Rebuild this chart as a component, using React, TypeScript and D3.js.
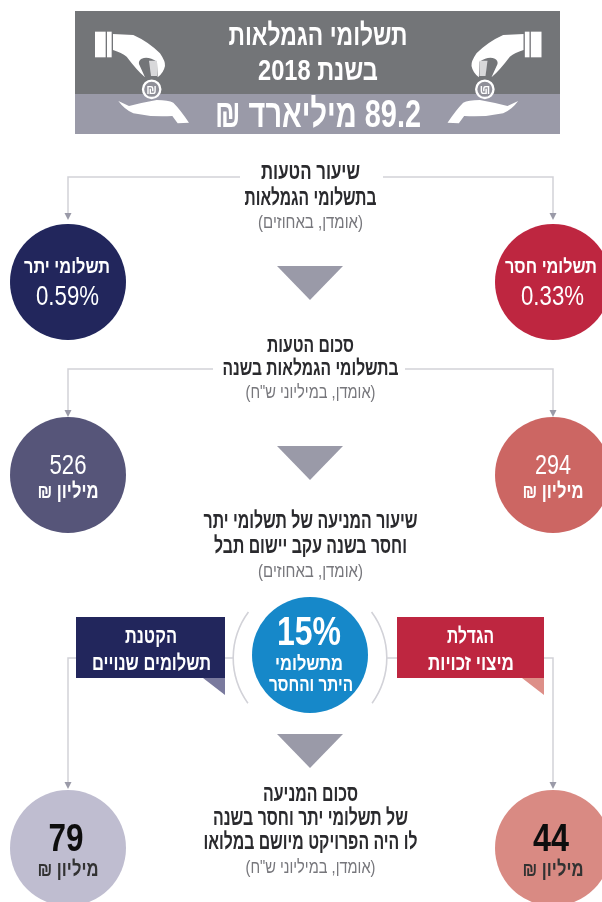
import * as d3 from "d3";

const sides = ["left", "right"];
const rows = ["rate", "amount", "prevented"];

const errorKinds = ["תשלומי יתר", "תשלומי חסר"];
const errorRates = [0.59, 0.33];
const errorAmounts = [526, 294];
const preventedAmounts = [79, 44];
const boxLines = [
    ["הקטנת", "תשלומים שנויים"],
    ["הגדלת", "מיצוי זכויות"],
];

const title = ["תשלומי הגמלאות", "בשנת 2018"];
const totalLabel = "89.2 מיליארד ₪";
const millionLabel = "מיליון ₪";
const preventionRate = 15;
const preventionLines = ["מתשלומי", "היתר והחסר"];

const headings = [
    ["שיעור הטעות", "בתשלומי הגמלאות"],
    ["סכום הטעות", "בתשלומי הגמלאות בשנה"],
    ["שיעור המניעה של תשלומי יתר", "וחסר בשנה עקב יישום תבל"],
    ["סכום המניעה", "של תשלומי יתר וחסר בשנה", "לו היה הפרויקט מיושם במלואו"],
];
const notes = ["(אומדן, באחוזים)", '(אומדן, במיליוני ש"ח)', "(אומדן, באחוזים)", '(אומדן, במיליוני ש"ח)'];

// measured widths: the original face is much narrower than anything installed
const widths: Record<string, number> = {
    "תשלומי הגמלאות": 179,
    "בשנת 2018": 120,
    "89.2 מיליארד ₪": 206,
    "שיעור הטעות": 99,
    "בתשלומי הגמלאות": 132,
    "(אומדן, באחוזים)": 105,
    "סכום הטעות": 87,
    "בתשלומי הגמלאות בשנה": 176,
    '(אומדן, במיליוני ש"ח)': 130,
    "שיעור המניעה של תשלומי יתר": 214,
    "וחסר בשנה עקב יישום תבל": 193,
    "סכום המניעה": 95,
    "של תשלומי יתר וחסר בשנה": 195,
    "לו היה הפרויקט מיושם במלואו": 214,
    "תשלומי יתר": 86,
    "תשלומי חסר": 92,
    "0.59%": 63,
    "0.33%": 63,
    "526": 37,
    "294": 36,
    "79": 35,
    "44": 36,
    "מיליון ₪": 61,
    "הקטנת": 52,
    "תשלומים שנויים": 119,
    "הגדלת": 47,
    "מיצוי זכויות": 86,
    "15%": 64,
    "מתשלומי": 68,
    "היתר והחסר": 84,
};

const x = d3.scalePoint(sides, [68, 553]);
const rowY = d3.scaleOrdinal(rows, [282, 475, 848]);
const circleR = 58;
const midX = 310;

const circleFill = d3.scaleOrdinal(sides, ["#20265c", "#be2540"]);
const amountFill = d3.scaleOrdinal(sides, ["#565579", "#cc6664"]);
const preventedFill = d3.scaleOrdinal(sides, ["#bfbdd0", "#d98a83"]);
const foldFill = d3.scaleOrdinal(sides, ["#7a7a9e", "#dd8f88"]);

const lineColor = "#d2d2d8";
const arrowColor = "#9a9aa8";
const font = "'Liberation Sans', sans-serif";

function Label({ t, cx, y, size, fill = "#fff", weight = 700 }: any) {
    return (
        <text
            x={cx}
            y={y}
            textAnchor="middle"
            direction="rtl"
            fontSize={size}
            fontWeight={weight}
            fontFamily={font}
            fill={fill}
            textLength={widths[t]}
            lengthAdjust="spacingAndGlyphs"
        >
            {t}
        </text>
    );
}

function Branch({ y, gapL, gapR, end }: any) {
    const path = d3.line();
    return (
        <g fill="none" stroke={lineColor} strokeWidth={1.5}>
            <path d={path([[gapL, y], [x("left")!, y], [x("left")!, end]])!} />
            <path d={path([[gapR, y], [x("right")!, y], [x("right")!, end]])!} />
            {sides.map((s) => (
                <path key={s} fill={arrowColor} stroke="none"
                    d={path([[x(s)! - 3.5, end], [x(s)! + 3.5, end], [x(s)!, end + 7]])! + "Z"} />
            ))}
        </g>
    );
}

function Triangle({ y }: { y: number }) {
    return <path fill={arrowColor} d={d3.line()([[midX - 33, y], [midX + 33, y], [midX, y + 34]])! + "Z"} />;
}

// hand + coin icon, drawn 3x in the coordinates of the left one
function Hands() {
    return (
        <g fill="#fff" transform="translate(85,20) scale(0.3333)">
            <rect x={30} y={35} width={32} height={77} />
            <rect x={66} y={35} width={14} height={77} />
            <path d="M84 42 L145 45 Q190 65 225 100 Q242 125 240 138 Q236 158 218 172 L216 125 Q190 108 170 116 Q160 122 162 132 L180 172 Q155 150 125 110 Q110 98 84 90 Z" />
            <path d="M192 122 H216 V168 H198 Z" fill="#d8d8da" />
            <circle cx={200} cy={208} r={26} fill="#8f8f98" stroke="#fff" strokeWidth={7} />
            <text x={200} y={222} textAnchor="middle" fontSize={36} fontWeight={700} fontFamily={font}>₪</text>
            <path d="M100 243 L132 258 Q170 248 215 240 Q250 240 265 248 Q285 268 312 308 L278 310 L262 288 Q200 292 145 280 Q118 268 100 243 Z" />
        </g>
    );
}

export default function App() {
    const arcLeft = d3.arc()({ innerRadius: 76, outerRadius: 77.6, startAngle: -2.2, endAngle: -0.93 } as any)!;
    const arcRight = d3.arc()({ innerRadius: 76, outerRadius: 77.6, startAngle: 0.93, endAngle: 2.2 } as any)!;

    return (
        <svg
            width={602}
            height={902}
            viewBox="0 0 602 902"
            style={{ position: "absolute", left: 0, top: 0, background: "#fff" }}
        >
            <defs>
                <filter id="soft" x="0" y="0" width="100%" height="100%">
                    <feGaussianBlur stdDeviation={0.55} />
                </filter>
            </defs>
            <g filter="url(#soft)">
                {/* header */}
                <rect x={75} y={11} width={485} height={83} fill="#737478" />
                <rect x={75} y={94} width={485} height={40} fill="#9a9aa8" />
                <Hands />
                <g transform="translate(636.5,0) scale(-1,1)">
                    <Hands />
                </g>
                <Label t={title[0]} cx={318} y={45} size={30} />
                <Label t={title[1]} cx={318} y={80} size={30} />
                <Label t={totalLabel} cx={318} y={127} size={39} />

                {/* connectors */}
                <Branch y={177} gapL={240} gapR={383} end={213} />
                <Branch y={369} gapL={213} gapR={405} end={410} />
                <Branch y={658} gapL={76} gapR={544} end={782} />
                <g stroke={lineColor} strokeWidth={1.5}>
                    <line x1={225} x2={234} y1={658} y2={658} />
                    <line x1={386} x2={397} y1={658} y2={658} />
                </g>

                {/* headings */}
                {[[179, 205, 228], [352, 375, 398], [528, 553, 577], [801, 825, 849, 873]].map((ys, i) => (
                    <g key={i}>
                        {headings[i].map((t, j) => (
                            <Label key={t} t={t} cx={310.5} y={ys[j]} size={i === 1 ? 22 : 23} fill="#2b2b2e" />
                        ))}
                        <Label t={notes[i]} cx={310.5} y={ys[ys.length - 1]} size={18} fill="#77777c" weight={400} />
                    </g>
                ))}

                <Triangle y={266} />
                <Triangle y={446} />
                <Triangle y={734} />

                {/* circles */}
                {sides.map((s, i) => (
                    <g key={s}>
                        <circle cx={x(s)} cy={rowY("rate")} r={circleR} fill={circleFill(s)} />
                        <Label t={errorKinds[i]} cx={x(s)! - (i === 1 ? 2 : 1)} y={rowY("rate") - 9} size={i === 1 ? 19 : 20} />
                        <Label t={`${errorRates[i]}%`} cx={x(s)! - 0.5} y={rowY("rate") + 23} size={28} weight={400} />

                        <circle cx={x(s)} cy={rowY("amount")} r={circleR} fill={amountFill(s)} />
                        <Label t={`${errorAmounts[i]}`} cx={x(s)!} y={rowY("amount") - 1} size={28} weight={400} />
                        <Label t={millionLabel} cx={x(s)!} y={rowY("amount") + 23} size={21} />

                        <circle cx={x(s)} cy={rowY("prevented")} r={circleR} fill={preventedFill(s)} />
                        <Label t={`${preventedAmounts[i]}`} cx={x(s)! - 2} y={rowY("prevented") + 3} size={38} fill="#111" />
                        <Label t={millionLabel} cx={x(s)!} y={rowY("prevented") + 28} size={21} fill="#333" />
                    </g>
                ))}

                {/* middle row: boxes and the blue circle */}
                {sides.map((s, i) => {
                    const x0 = i === 0 ? 76 : 397;
                    const x1 = i === 0 ? 225 : 544;
                    return (
                        <g key={s}>
                            <rect x={x0} y={617} width={x1 - x0} height={61} fill={circleFill(s)} />
                            <path fill={foldFill(s)} d={d3.line()([[x1 - 22, 678], [x1, 678], [x1, 695]])! + "Z"} />
                            <Label t={boxLines[i][0]} cx={(x0 + x1) / 2 + (i === 0 ? 0.5 : 0)} y={643} size={22} />
                            <Label t={boxLines[i][1]} cx={(x0 + x1) / 2 + (i === 0 ? 1 : 0.5)} y={670} size={22} />
                        </g>
                    );
                })}
                <g transform="translate(310,658)" fill={lineColor}>
                    <path d={arcLeft} />
                    <path d={arcRight} />
                </g>
                <circle cx={310} cy={655} r={58} fill="#1488c9" />
                <Label t={`${preventionRate}%`} cx={309} y={645} size={40} />
                <Label t={preventionLines[0]} cx={309} y={670} size={20} />
                <Label t={preventionLines[1]} cx={311} y={691} size={20} />
            </g>
        </svg>
    );
}
